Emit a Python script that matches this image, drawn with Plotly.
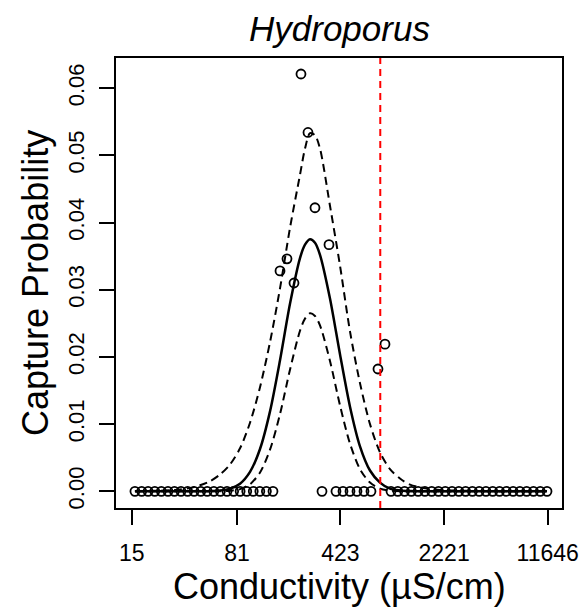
import plotly.graph_objects as go

# ---- data ----
conductivity = [15.8, 17.6, 19.5, 21.7, 24.1, 26.8, 29.7, 33.0, 36.7, 40.7, 45.3, 50.2,
                55.8, 62.0, 68.9, 76.6, 85.0, 94.5, 104.9, 116.5, 129.4, 143.8,
                160.9, 179.9, 201.2, 225.0, 251.7, 281.5, 314.9, 352.2, 393.9, 440.6,
                492.8, 551.2, 616.5, 689.5, 771.2, 862.6,
                949.6, 1058.5, 1180.0, 1315.0, 1465.7, 1633.7, 1821.0, 2029.8, 2262.4,
                2521.7, 2810.7, 3132.7, 3491.9, 3892.0, 4338.2, 4835.5, 5389.6, 6007.3,
                6695.9, 7463.5, 8318.8, 9272.4, 10335, 11520]
capture_prob = [0] * 22 + [0.0328, 0.0346, 0.0310, 0.0621, 0.0534, 0.0422, 0, 0.0367,
                           0, 0, 0, 0, 0, 0, 0.0182, 0.0219] + [0] * 24

fit_conductivity = [15.8, 29.96, 38.12, 44.74, 52.51, 61.61, 72.31, 84.86, 99.57, 116.83,
                    137.10, 160.9, 188.75, 221.5, 239.98, 259.97, 281.5, 304.97, 357.86,
                    419.97, 492.8, 578.2, 678.6, 796.3, 934.5, 1096.6, 1286.9, 1510.1,
                    2079.6, 11520]
fit_mean = [0, 0, 0, 0.00001, 0.00003, 0.00012, 0.0004, 0.00114, 0.0029, 0.0063,
            0.0119, 0.0195, 0.0279, 0.0347, 0.0367, 0.0375, 0.0370, 0.0352, 0.0287,
            0.0204, 0.0126, 0.0067, 0.0031, 0.0013, 0.0004, 0.00014, 0.00004, 0.00001,
            0, 0]
fit_upper = [0, 0.0002, 0.0005, 0.0009, 0.0015, 0.0025, 0.0040, 0.0064, 0.0102, 0.0155,
             0.0222, 0.0302, 0.0392, 0.0471, 0.0510, 0.0533, 0.0530, 0.0510, 0.0425,
             0.0336, 0.0238, 0.0161, 0.0100, 0.0058, 0.0033, 0.0019, 0.0010, 0.0006,
             0.0002, 0]
fit_lower = [0, 0, 0, 0, 0, 0.00002, 0.00009, 0.00033, 0.00105, 0.0028,
             0.0062, 0.0115, 0.0181, 0.0239, 0.0257, 0.0265, 0.0261, 0.0247, 0.0194,
             0.0128, 0.0071, 0.0033, 0.0013, 0.0004, 0.0001, 0, 0, 0, 0, 0]

threshold = 800
x_tick_values = [15, 81, 423, 2221, 11646]
x_tick_labels = ["15", "81", "423", "2221", "11646"]
y_tick_values = [0.00, 0.01, 0.02, 0.03, 0.04, 0.05, 0.06]
y_tick_labels = ["0.00", "0.01", "0.02", "0.03", "0.04", "0.05", "0.06"]

title_text = "<i>Hydroporus</i>"
x_title = "Conductivity (µS/cm)"
y_title = "Capture Probability"

FONT = "Liberation Sans, Arial, Helvetica, sans-serif"

fig = go.Figure()
fig.add_trace(go.Scatter(x=fit_conductivity, y=fit_upper, mode="lines",
                         line=dict(color="black", width=2, dash="8px,5px", shape="spline", smoothing=0.8),
                         hoverinfo="skip", showlegend=False))
fig.add_trace(go.Scatter(x=fit_conductivity, y=fit_lower, mode="lines",
                         line=dict(color="black", width=2, dash="8px,5px", shape="spline", smoothing=0.8),
                         hoverinfo="skip", showlegend=False))
fig.add_trace(go.Scatter(x=fit_conductivity, y=fit_mean, mode="lines",
                         line=dict(color="black", width=2.5, shape="spline", smoothing=0.8),
                         hoverinfo="skip", showlegend=False))
fig.add_trace(go.Scatter(x=conductivity, y=capture_prob, mode="markers",
                         marker=dict(symbol="circle-open", size=9, color="black",
                                     line=dict(width=1.8, color="black")),
                         showlegend=False))

fig.add_shape(type="line", xref="x", yref="paper", x0=threshold, x1=threshold, y0=0, y1=1,
              line=dict(color="#ff0000", width=2, dash="7px,5px"))

# plot area: x 116..562 px, y 58..508 px
fig.add_annotation(text=title_text, xref="paper", yref="paper", x=0.5, y=(508 - 28) / 450,
                   xanchor="center", yanchor="middle", showarrow=False,
                   font=dict(size=35, family=FONT, color="black"))
fig.add_annotation(text=x_title, xref="paper", yref="paper", x=0.5, y=(508 - 586) / 450,
                   xanchor="center", yanchor="middle", showarrow=False,
                   font=dict(size=36, family=FONT, color="black"))
fig.add_annotation(text=y_title, xref="paper", yref="paper", x=(35 - 116) / 446, y=0.5,
                   xanchor="center", yanchor="middle", textangle=-90, showarrow=False,
                   font=dict(size=36, family=FONT, color="black"))

fig.update_layout(
    width=583, height=607,
    margin=dict(l=116, r=21, t=58, b=99, autoexpand=False),
    paper_bgcolor="white", plot_bgcolor="white",
    font=dict(family=FONT, color="black"),
)
fig.update_xaxes(type="log", range=[1.0671, 4.1656], automargin=False,
                 tickvals=x_tick_values, ticktext=x_tick_labels,
                 ticks="outside", ticklen=15, tickwidth=2, tickcolor="black",
                 tickfont=dict(size=23, family=FONT), ticklabelstandoff=8,
                 showline=True, linecolor="black", linewidth=2, mirror=True,
                 showgrid=False, zeroline=False)
fig.update_yaxes(range=[-0.00248, 0.06448], automargin=False,
                 tickvals=y_tick_values, ticktext=y_tick_labels, tickangle=-90,
                 ticks="outside", ticklen=15, tickwidth=2, tickcolor="black",
                 tickfont=dict(size=22, family=FONT), ticklabelstandoff=6,
                 showline=True, linecolor="black", linewidth=2, mirror=True,
                 showgrid=False, zeroline=False)

fig.write_html("out.html", config={"displayModeBar": False},
               post_script="document.body.style.margin='0';document.body.style.overflow='hidden';")
